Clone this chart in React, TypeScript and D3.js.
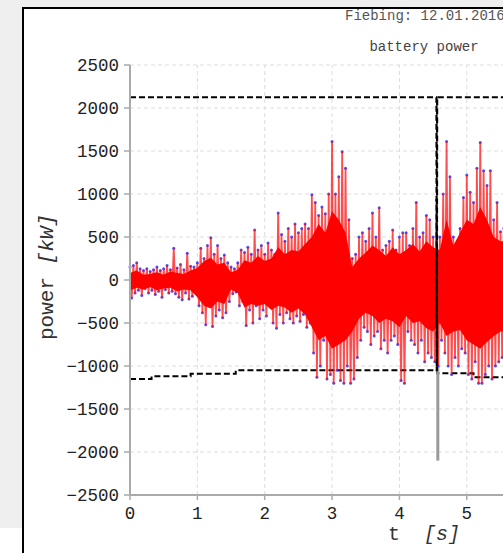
import React from 'react';
import * as d3 from 'd3';

// sampled battery power, one max/min pair every 0.05 s (kW)
const SAMPLE_STEP = 0.05;
const powerHigh = [
  150, 170, 200, 130, 110, 130, 100, 120, 150, 110, 130, 170, 120, 370, 140, 180, 120, 310, 160, 150,
  200, 370, 250, 400, 490, 300, 400, 250, 290, 200, 150, 130, 200, 350, 320, 380, 300, 580, 350, 400,
  300, 430, 350, 300, 780, 530, 450, 600, 500, 650, 550, 600, 650, 600, 990, 900, 750, 850, 770, 1000,
  1610, 1000, 1200, 1490, 1300, 700, 250, 300, 500, 550, 450, 600, 780, 500, 840, 350, 400, 450, 580, 350,
  500, 550, 550, 400, 600, 900, 500, 550, 750, 700, 500, 930, 500, 1000, 1610, 1200, 500, 350, 600, 960,
  1220, 1020, 900, 1300, 1600, 1270, 1100, 1270, 700, 900, 560, 600, 650,
];
const powerLow = [
  -210, -150, -120, -180, -100, -150, -120, -170, -130, -200, -110, -150, -130, -160, -200, -230, -150, -220, -190, -130,
  -300, -380, -520, -300, -540, -420, -350, -440, -380, -250, -160, -140, -300, -250, -530, -350, -500, -300, -450, -350,
  -420, -300, -500, -560, -400, -500, -380, -450, -500, -420, -480, -400, -550, -500, -850, -1130, -1000, -700, -1150, -1100,
  -1200, -1050, -1170, -1200, -1000, -1200, -1150, -900, -700, -550, -600, -750, -650, -600, -800, -700, -850, -700, -650, -750,
  -1170, -1200, -600, -700, -750, -850, -700, -950, -850, -900, -950, -1000, -700, -850, -1000, -1100, -900, -1000, -800, -850,
  -1100, -1150, -950, -1200, -1200, -1100, -1000, -1150, -1000, -950, -900, -900, -850,
];

// dense part of the trace (where it reads as solid red), every 0.1 s
const CORE_STEP = 0.1;
const coreHigh = [
  80, 110, 60, 70, 90, 60, 100, 80, 70, 110,
  140, 220, 260, 180, 200, 90, 120, 230, 200, 280,
  220, 250, 380, 300, 350, 330, 420, 500, 650, 550,
  800, 700, 550, 150, 250, 320, 400, 350, 280, 380,
  300, 350, 420, 330, 450, 380, 350, 700, 400, 550,
  700, 650, 850, 700, 500, 450, 450,
];
const coreLow = [
  -120, -90, -110, -80, -120, -100, -90, -130, -110, -120,
  -200, -300, -330, -250, -280, -110, -150, -320, -280, -300,
  -280, -350, -300, -320, -380, -330, -400, -550, -700, -650,
  -800, -750, -700, -600, -450, -380, -420, -500, -450, -480,
  -550, -420, -500, -480, -560, -600, -500, -650, -600, -580,
  -700, -750, -800, -720, -650, -600, -600,
];

// limits (dashed black)
const upperT = [0, 4.55, 4.555, 4.56, 8.7];
const upperV = [2125, 2125, -1060, 2125, 2125];
const lowerT = [0, 0.32, 0.9, 1.57, 4.56, 5.1, 8.7];
const lowerV = [-1150, -1120, -1090, -1050, -1085, -1130, -1130];

// event marker (grey)
const eventT = [4.57, 4.57];
const eventV = [0, -2100];

const xTicks = [0, 1, 2, 3, 4, 5, 6, 7, 8];
const yTicks = [-2500, -2000, -1500, -1000, -500, 0, 500, 1000, 1500, 2000, 2500];

const W = 503;
const H = 553;
const MONO = '"Liberation Mono", "DejaVu Sans Mono", monospace';

const App = () => {
  const x = d3.scaleLinear().domain([0, 8.7]).range([130, 716]);
  const y = d3.scaleLinear().domain([-2500, 2500]).range([495, 65]);

  const signal: [number, number][] = [];
  powerHigh.forEach((h, i) => {
    signal.push([i * SAMPLE_STEP, h]);
    signal.push([i * SAMPLE_STEP + SAMPLE_STEP / 2, powerLow[i]]);
  });

  const line = d3.line<[number, number]>()
    .x(d => x(d[0]))
    .y(d => y(d[1]));
  const stepLine = d3.line<[number, number]>()
    .x(d => x(d[0]))
    .y(d => y(d[1]))
    .curve(d3.curveStepAfter);
  const core = d3.area<number>()
    .x((_, i) => x(i * CORE_STEP))
    .y0((_, i) => y(coreLow[i]))
    .y1(d => y(d));

  const upper = upperT.map((t, i) => [t, upperV[i]] as [number, number]);
  const lower = lowerT.map((t, i) => [t, lowerV[i]] as [number, number]);
  const event = eventT.map((t, i) => [t, eventV[i]] as [number, number]);

  const [x0, x1] = x.range();
  const [yb, yt] = y.range();
  const shownX = xTicks.filter(v => x(v) < W);

  return (
    <div style={{ position: 'absolute', left: 0, top: 0, width: W, height: H, overflow: 'hidden' }}>
      <svg width={W} height={H} style={{ display: 'block', background: '#fff' }}>
        {/* page chrome */}
        <rect x={0} y={0} width={W} height={8} fill="#efefef" />
        <rect x={0} y={0} width={22} height={528} fill="#efefef" />
        <line x1={22} x2={W} y1={8} y2={8} stroke="#000" strokeWidth={2} />
        <line x1={23} x2={23} y1={8} y2={H} stroke="#000" strokeWidth={2} />

        <text x={345} y={20} fontFamily={MONO} fontSize={14} fill="#555">Fiebing: 12.01.2016</text>
        <text x={424} y={51} textAnchor="middle" fontFamily={MONO} fontSize={14} fill="#444">battery power</text>

        {/* grid */}
        {yTicks.map(v => (
          <line key={'gy' + v} x1={x0} x2={x1} y1={y(v)} y2={y(v)} stroke="#ddd" strokeDasharray="4,3" />
        ))}
        {shownX.map(v => (
          <line key={'gx' + v} x1={x(v)} x2={x(v)} y1={yb} y2={yt} stroke="#ddd" strokeDasharray="4,3" />
        ))}

        {/* limits */}
        <path d={stepLine(lower) || ''} fill="none" stroke="#000" strokeWidth={2} strokeDasharray="6,3" />
        <path d={line(event) || ''} fill="none" stroke="#999" strokeWidth={3} />

        {/* signal */}
        {signal.map((d, i) => (
          <circle key={i} cx={x(d[0])} cy={y(d[1])} r={1.5} fill="#3030ff" opacity={0.85} />
        ))}
        <path d={core(coreHigh) || ''} fill="#ff0000" />
        <path d={line(signal) || ''} fill="none" stroke="#ff0000" strokeWidth={1.8} strokeOpacity={0.7} />

        <path d={line(upper) || ''} fill="none" stroke="#000" strokeWidth={2.2} strokeDasharray="6,3" />

        {/* axes */}
        <line x1={x0} x2={x0} y1={yb} y2={yt} stroke="#aaa" strokeWidth={2} />
        <line x1={x0} x2={x1} y1={yb} y2={yb} stroke="#aaa" strokeWidth={2} />
        {yTicks.map(v => (
          <g key={'ty' + v}>
            <line x1={x0 - 6} x2={x0} y1={y(v)} y2={y(v)} stroke="#aaa" strokeWidth={1.5} />
            <text x={x0 - 11} y={y(v)} dy="0.35em" textAnchor="end" fontFamily={MONO} fontSize={17.5} fill="#222">
              {v < 0 ? '\u2212' + Math.abs(v) : v}
            </text>
          </g>
        ))}
        {shownX.map(v => (
          <g key={'tx' + v}>
            <line x1={x(v)} x2={x(v)} y1={yb} y2={yb + 5} stroke="#aaa" strokeWidth={1.5} />
            <text x={x(v)} y={519} textAnchor="middle" fontFamily={MONO} fontSize={17.5} fill="#222">{v}</text>
          </g>
        ))}

        <text x={424} y={540} textAnchor="middle" fontFamily={MONO} fontSize={20} fill="#333" xmlSpace="preserve">
          {'t  '}<tspan fontStyle="italic">[s]</tspan>
        </text>
        <text transform="translate(46,277) rotate(-90)" textAnchor="middle" dy="0.35em" fontFamily={MONO} fontSize={21} fill="#333">
          power <tspan fontStyle="italic">[kW]</tspan>
        </text>
      </svg>
    </div>
  );
};

export default App;
